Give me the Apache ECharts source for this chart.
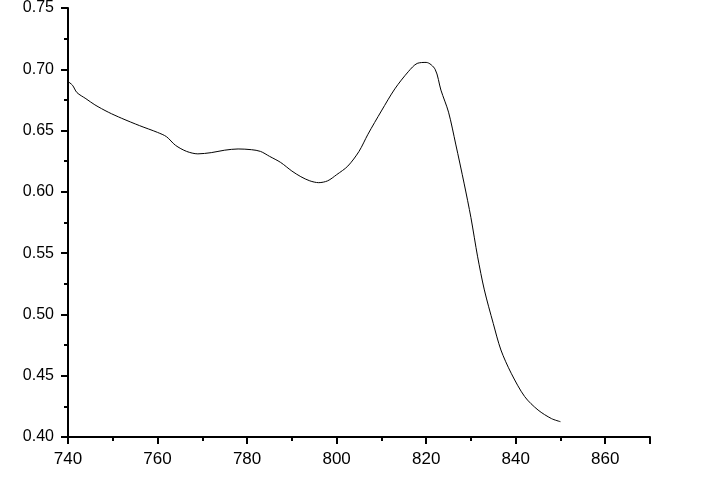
<!DOCTYPE html>
<html><head><meta charset="utf-8">
<script src="https://cdn.jsdelivr.net/npm/echarts@6/dist/echarts.min.js"></script>
<style>html,body{margin:0;padding:0;background:#fff}#c{width:725px;height:479px}</style>
</head><body><div id="c"></div>
<script>
const wavelength = [740,741,742,744,746,749,752,756,760,762,764,766.5,769,772,775,778,781,783,785,787.5,790,792,794,796,798,800,802.5,805,807,810,813,816,818,820,822,823.3,825,826.6,828.5,830,831.5,833,835,836.7,839,842,845,848,850];
const absorbance = [0.690,0.687,0.681,0.676,0.671,0.665,0.660,0.654,0.6485,0.645,0.638,0.633,0.631,0.632,0.634,0.635,0.6344,0.633,0.629,0.624,0.617,0.6124,0.609,0.6075,0.609,0.614,0.621,0.633,0.647,0.666,0.684,0.698,0.7048,0.7056,0.700,0.683,0.665,0.639,0.6065,0.579,0.547,0.520,0.4925,0.471,0.452,0.433,0.422,0.415,0.4125];
const xTicks = [740,760,780,800,820,840,860];
const yTicks = [0.40,0.45,0.50,0.55,0.60,0.65,0.70,0.75];

const chart = echarts.init(document.getElementById('c'), null, {renderer:'canvas'});
const font = 'Arial, "Liberation Sans", sans-serif';
chart.setOption({
  animation:false,
  backgroundColor:'#fff',
  grid:{left:68,right:75,top:7,bottom:42},
  xAxis:{type:'value',min:xTicks[0],max:870,interval:20,
    axisLine:{lineStyle:{color:'#000',width:2}},
    axisTick:{show:true,length:7,lineStyle:{color:'#000',width:2}},
    minorTick:{show:true,splitNumber:2,length:4,lineStyle:{color:'#000',width:2}},
    splitLine:{show:false},
    axisLabel:{color:'#000',fontSize:17,fontFamily:font,margin:14,
      formatter:v=>xTicks.includes(v)?String(v):''}},
  yAxis:{type:'value',min:yTicks[0],max:yTicks[yTicks.length-1],interval:0.05,
    axisLine:{show:true,lineStyle:{color:'#000',width:2}},
    axisTick:{show:true,length:7,lineStyle:{color:'#000',width:2}},
    minorTick:{show:true,splitNumber:2,length:4,lineStyle:{color:'#000',width:2}},
    splitLine:{show:false},
    axisLabel:{color:'#000',fontSize:16,fontFamily:font,margin:14,
      formatter:v=>v.toFixed(2)}},
  series:[{type:'line',data:wavelength.map((x,i)=>[x,absorbance[i]]),
    showSymbol:false,smooth:0.3,lineStyle:{color:'#000',width:1}}]
});
</script></body></html>
